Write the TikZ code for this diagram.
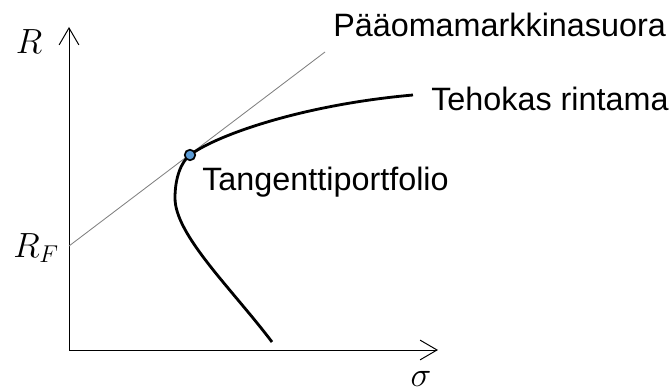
\documentclass[tikz,border=0pt]{standalone}
\usepackage{fontspec}
\setmainfont{Liberation Sans}
\usetikzlibrary{arrows.meta, positioning}
\definecolor{dotblue}{RGB}{91,155,213}

\begin{document}
\begin{tikzpicture}[
  x=0.025cm, y=-0.025cm,
  font=\fontsize{23}{27}\selectfont,
  axis/.style={-{Straight Barb[length=12pt, width=14pt]}, line width=0.7pt},
  cml/.style={draw=gray, line width=0.6pt},
  frontier/.style={line width=2pt},
  dot/.style={circle, draw, fill=dotblue, line width=1.2pt, minimum size=7.5pt, inner sep=0pt},
  lbl/.style={anchor=base west, inner sep=0pt},
  sym/.style={font=\fontsize{26}{30}\selectfont, inner sep=1pt}
]
\useasboundingbox (0,0) rectangle (672,392);

\coordinate (origin) at (69,350);
\coordinate (ytip) at (69,27);
\coordinate (xtip) at (438,350);
\coordinate (rf) at (69,246);
\coordinate (cmlend) at (325,52);
\coordinate (tp) at (190,155);
\coordinate (minvar) at (175,198);
\coordinate (lowend) at (272,342);
\coordinate (highend) at (413,95);

% axes
\draw[axis] (origin) -- (ytip);
\draw[axis] (origin) -- (xtip);

% capital market line and efficient frontier
\draw[cml] (rf) -- (cmlend);
\draw[frontier] (lowend) .. controls (232,289) and (175,235) .. (minvar)
  .. controls (175,178) and (181,162) .. (tp)
  .. controls (215,136) and (300,105) .. (highend);
\node[dot] (tangent) at (tp) {};

% labels
\node[sym] (rlabel) at (29,42) {$R$};
\node[sym] (rflabel) at (36,248) {$R_F$};
\node[sym] (sigmalabel) at (421,379) {$\sigma$};
\node[lbl] (cmllabel) at (333,37) {Pääomamarkkinasuora};
\node[lbl] (frontlabel) at (431,111) {Tehokas rintama};
\node[lbl] (tanglabel) at (202,191) {Tangenttiportfolio};
\end{tikzpicture}
\end{document}
